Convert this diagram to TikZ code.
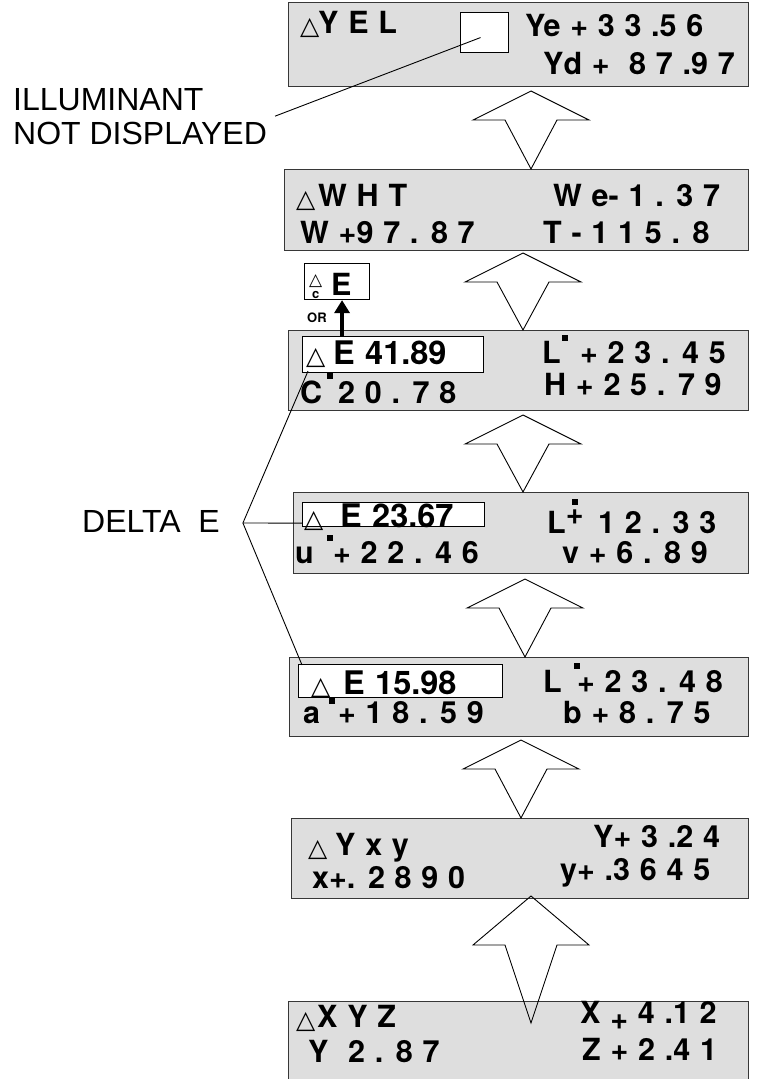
\documentclass[tikz,border=0pt]{standalone}
\usepackage{fontspec}
\setmainfont{Liberation Sans}
\newfontfamily\panelfont[WordSpace=1.15]{TeX Gyre Heros}
\newfontfamily\symfont{DejaVu Sans}
\usetikzlibrary{arrows.meta, positioning, calc}
\definecolor{panelGray}{RGB}{222,222,222}
\definecolor{panelEdge}{RGB}{55,55,55}
\newcommand{\pfont}{\panelfont\bfseries\fontsize{30.5}{30}\selectfont}
\newcommand{\dfont}{\panelfont\bfseries\fontsize{32.5}{32}\selectfont}

\begin{document}
\begin{tikzpicture}[
    x=1pt, y=-1pt,
    panel/.style={
      rectangle, draw=panelEdge, line width=1.3pt, fill=panelGray,
      anchor=north west, inner sep=0pt
    },
    readout/.style={
      rectangle, draw=black, line width=1.1pt, fill=white,
      anchor=north west, inner sep=0pt
    },
    val/.style={anchor=base west, inner sep=0pt, font=\pfont},
    tri/.style={anchor=base west, inner sep=0pt, font=\symfont\fontsize{25}{25}\selectfont},
    lbl/.style={inner sep=0pt, font=\fontsize{32}{34}\selectfont},
    sqdot/.style={rectangle, fill=black, inner sep=0pt, minimum size=6pt},
    lead/.style={draw, line width=0.9pt},
    orarrow/.style={-{Triangle[width=15pt,length=13pt]}, line width=4.5pt},
    bigarrow/.style={
      draw, line width=0.9pt, line join=miter,
      to path={-- ($(\tikztostart)+(58,#1)$) -- ($(\tikztostart)+(26,#1)$)
        -- (\tikztotarget) -- ($(\tikztostart)+(-26,#1)$)
        -- ($(\tikztostart)+(-58,#1)$) -- cycle}
    },
    bigarrow/.default=29
  ]
    \clip (0,0) rectangle (762,1079);

    % display panels, top to bottom
    \node[panel, minimum width=460pt, minimum height=84pt] (yel) at (288,2) {};
    \node[panel, minimum width=464pt, minimum height=81pt] (wht) at (284,169) {};
    \node[panel, minimum width=460pt, minimum height=80pt] (lch) at (288,330) {};
    \node[panel, minimum width=455pt, minimum height=81pt] (luv) at (293,492) {};
    \node[panel, minimum width=459pt, minimum height=79pt] (lab) at (289,657) {};
    \node[panel, minimum width=457pt, minimum height=80pt] (yxy) at (291,818) {};
    \node[panel, minimum width=460pt, minimum height=90pt] (xyz) at (288,1001) {};

    % white windows
    \node[readout, minimum width=48pt, minimum height=40pt] (lampbox) at (460,12) {};
    \node[readout, minimum width=181pt, minimum height=36pt] (lchde) at (302,336) {};
    \node[readout, minimum width=182pt, minimum height=24pt] (luvde) at (302,502) {};
    \node[readout, minimum width=204pt, minimum height=33pt] (labde) at (298,664) {};
    \node[readout, minimum width=65pt, minimum height=36pt] (cebox) at (304,263) {};

    % YEL
    \node[tri] (yeltri) at (300,34) {△};
    \node[val] (yelname) at (318,33) {Y E L};
    \node[val] (yelye) at (525,36) {Ye + 3 3 .5 6};
    \node[val] (yelyd) at (543,74) {Yd + \ 8 7 .9 7};

    % WHT
    \node[tri] (whttri) at (296,207) {△};
    \node[val] (whtname) at (318,206) {W H T};
    \node[val] (whtwe) at (553,206) {W e- 1 . 3 7};
    \node[val] (whtw) at (300,243) {W +9 7 . 8 7};
    \node[val] (whtt) at (543,243) {T - 1 1 5 . 8};

    % LCH
    \node[tri] (lchtri) at (306,364) {△};
    \node[val, font=\dfont] (lchdev) at (333,364) {E 41.89};
    \node[val] (lchc) at (300,403) {C};
    \node[sqdot] (lchcdot) at (330,376) {};
    \node[val] (lchcv) at (338,403) {2 0 . 7 8};
    \node[val] (lchl) at (542,363) {L};
    \node[sqdot] (lchldot) at (565,338) {};
    \node[val] (lchlv) at (580,363) {+ 2 3 . 4 5};
    \node[val] (lchh) at (544,395) {H + 2 5 . 7 9};

    % CIE94 alternative
    \node[tri, font=\symfont\fontsize{17}{17}\selectfont] (cetri) at (309,285) {△};
    \node[val, font=\panelfont\bfseries\fontsize{13}{13}\selectfont] (cesub) at (312,298) {c};
    \node[val] (ceE) at (331,295) {E};
    \node[val, font=\panelfont\bfseries\fontsize{13}{13}\selectfont] (ortext) at (307,322) {OR};
    \coordinate (orshaft) at ([xshift=5pt]cebox.south);
    \draw[orarrow] (orshaft |- lchde.north) -- (orshaft);

    % Luv
    \node[tri] (luvtri) at (304,527) {△};
    \node[val, font=\dfont] (luvdev) at (340,527) {E 23.67};
    \node[val] (luvu) at (295,563) {u};
    \node[sqdot] (luvudot) at (330,538) {};
    \node[val] (luvuv) at (333,563) {+ 2 2 . 4 6};
    \node[val] (luvl) at (547,533) {L\raisebox{9pt}{+}};
    \node[sqdot] (luvldot) at (575,502) {};
    \node[val] (luvlv) at (598,533) {1 2 . 3 3};
    \node[val] (luvv) at (562,563) {v + 6 . 8 9};

    % Lab
    \node[tri] (labtri) at (311,694) {△};
    \node[val, font=\dfont] (labdev) at (343,694) {E 15.98};
    \node[val] (laba) at (303,723) {a};
    \node[sqdot] (labadot) at (332,701) {};
    \node[val] (labav) at (338,723) {+ 1 8 . 5 9};
    \node[val] (labl) at (543,692) {L};
    \node[sqdot] (labldot) at (577,666) {};
    \node[val] (lablv) at (577,692) {+ 2 3 . 4 8};
    \node[val] (labb) at (563,723) {b + 8 . 7 5};

    % Yxy
    \node[tri] (yxytri) at (308,856) {△};
    \node[val] (yxyname) at (335,855) {Y x y};
    \node[val] (yxyx) at (312,888) {x+. 2 8 9 0};
    \node[val] (yxyY) at (593,847) {Y+ 3 .2 4};
    \node[val] (yxyy) at (560,880) {y+ .3 6 4 5};

    % XYZ
    \node[tri] (xyztri) at (296,1028) {△};
    \node[val] (xyzname) at (317,1027) {X Y Z};
    \node[val] (xyzy) at (308,1062) {Y\ \ 2 . 8 7};
    \node[val] (xyzx) at (580,1023) {X \raisebox{-6pt}{+} 4 .1 2};
    \node[val] (xyzz) at (582,1060) {Z + 2 .4 1};

    % hollow arrows between panels
    \coordinate (tip1) at (531,91);
    \coordinate (tip2) at (523,253);
    \coordinate (tip3) at (523,415);
    \coordinate (tip4) at (525,579);
    \coordinate (tip5) at (521,740);
    \coordinate (tip6) at (531,896);
    \draw[bigarrow] (tip1) to (tip1 |- wht.north);
    \draw[bigarrow] (tip2) to (tip2 |- lch.north);
    \draw[bigarrow] (tip3) to (tip3 |- luv.north);
    \draw[bigarrow] (tip4) to (tip4 |- lab.north);
    \draw[bigarrow] (tip5) to (tip5 |- yxy.north);
    \draw[bigarrow=49] (tip6) to ($(tip6 |- xyz.north)+(0,22)$);

    % side labels
    \node[lbl, anchor=base west, align=left] (illum) at (13,144) {ILLUMINANT\\NOT DISPLAYED};
    \draw[lead] ([xshift=8pt]illum.east) -- ($(lampbox.center)+(-4,5)$);

    \node[lbl, anchor=base west] (deltae) at (82,532) {DELTA\ \ E};
    \coordinate (fork) at ($(deltae.base east)+(23,-9)$);
    \draw[lead] ($(lchde.south west)+(6,-2)$) -- (fork) -- ($(labde.north west)+(4,1)$);
    \draw[lead] (fork) -- ($(luvde.south west)+(0,-4)$);
  \end{tikzpicture}
\end{document}
